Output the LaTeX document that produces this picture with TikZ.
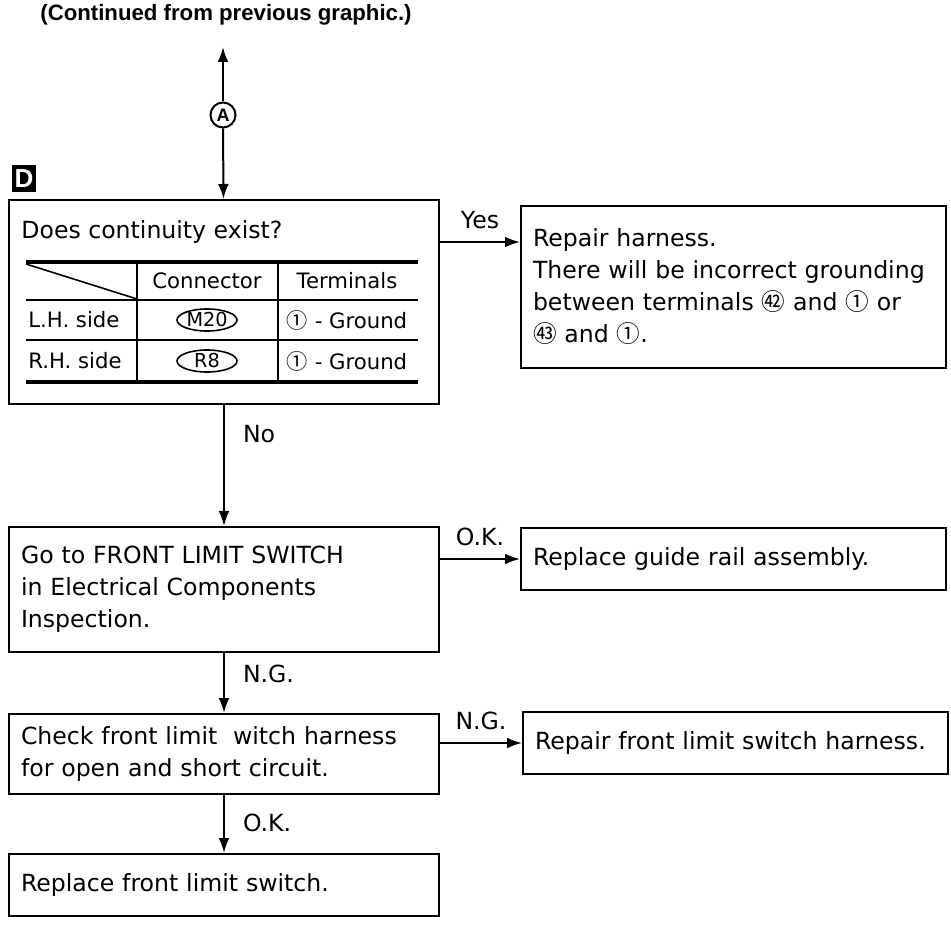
\documentclass[tikz,border=0pt]{standalone}
\usepackage{fontspec}
\setmainfont{DejaVu Sans}
\newfontfamily\headfont{Liberation Sans}
\newfontfamily\cjk{Noto Sans CJK SC}
\usetikzlibrary{arrows.meta,positioning,shapes.geometric}
\newcommand{\bodyfont}{\fontsize{11.8pt}{16pt}\selectfont}
\newcommand{\cellfont}{\fontsize{10.6pt}{12pt}\selectfont}
\newcommand{\cn}[1]{{\cjk #1}}
\tikzset{
  box/.style={draw, line width=1pt, anchor=north west, align=left,
    inner xsep=6pt, inner ysep=0pt, font=\bodyfont},
  flow/.style={-{Latex[length=7.5pt,width=5.4pt]}, line width=1pt},
  lbl/.style={font=\bodyfont, inner sep=0pt},
  cell/.style={font=\cellfont, inner sep=0pt},
  plug/.style={ellipse, draw, line width=0.8pt, inner sep=0pt,
    minimum width=30pt, minimum height=11pt, font=\fontsize{9.6pt}{9.6pt}\selectfont},
  rulethick/.style={line width=2pt},
  rulethin/.style={line width=0.8pt},
  joint/.style={circle, draw, line width=1pt, minimum size=12.5pt, inner sep=0pt,
    font=\headfont\bfseries\fontsize{9pt}{9pt}\selectfont},
  tag/.style={fill=black, text=white, minimum width=12pt, minimum height=13.5pt,
    inner sep=0pt, font=\headfont\bfseries\fontsize{13pt}{13pt}\selectfont},
}

\begin{document}
\begin{tikzpicture}[x=0.5pt, y=-0.5pt]
  \useasboundingbox (0,0) rectangle (951,925);
  \node[font=\headfont\bfseries\fontsize{11.1pt}{13pt}\selectfont] (title) at (226,15)
    {(Continued from previous graphic.)};
  \coordinate (prev) at (223,47);
  \node[joint] (markA) at (223,115) {A};
  \node[tag] (secD) at (24,179) {D};

  % continuity check with connector table
  \node[box, minimum width=215pt, minimum height=102pt] (cont) at (8,199) {};
  \node[lbl, anchor=west] (ask) at (21,232) {Does continuity exist?};
  \foreach \y/\w in {262/rulethick, 300/rulethin, 340/rulethin, 382/rulethick}
    \draw[\w] (26,\y) -- (418,\y);
  \foreach \x in {137, 278}
    \draw[rulethin] (\x,262) -- (\x,382);
  \draw[rulethin] (26,264) -- (137,299);
  \node[cell] (hcon) at (207,281) {Connector};
  \node[cell] (hterm) at (347,281) {Terminals};
  \foreach \y/\side/\pin in {320/L.H. side/M20, 361/R.H. side/R8} {
    \node[cell, anchor=west] (side-\y) at (28,\y) {\side};
    \node[plug] (pin-\y) at (207,\y) {\pin};
    \node[cell] (term-\y) at (347,\y) {\cn{①} - Ground};
  }

  \node[box, text width=200.5pt, minimum height=81pt] (fix) at (520,205)
    {Repair harness.\\There will be incorrect grounding\\between terminals
     \cn{㊷} and \cn{①} or\\\cn{㊸} and \cn{①}.};
  \node[box, text width=203pt, minimum height=62.5pt] (goto) at (8,526)
    {Go to FRONT LIMIT SWITCH\\in Electrical Components\\Inspection.};
  \node[box, text width=200.5pt, minimum height=31pt] (guide) at (520,527)
    {Replace guide rail assembly.};
  \node[box, text width=203pt, minimum height=40pt] (chk) at (8,713)
    {Check front limit~ witch harness\\for open and short circuit.};
  \node[box, text width=200.5pt, minimum height=31pt] (fixsw) at (522,711)
    {Repair front limit switch harness.};
  \node[box, text width=203pt, minimum height=31pt] (swap) at (8,853)
    {Replace front limit switch.};

  % connectors
  \draw[flow] (markA) -- (prev);
  \draw[flow] (markA) -- (cont);
  \coordinate (yesout) at ([yshift=-21.5pt]cont.north east);
  \draw[flow] (yesout) -- node[lbl, above=6pt] {Yes} (yesout -| fix.west);
  \draw[flow] (cont) -- node[lbl, anchor=west, xshift=9pt, pos=0.24] {No} (goto);
  \draw[flow] (guide.west -| goto.east) -- node[lbl, above=6pt] {O.K.} (guide.west);
  \draw[flow] (goto) -- node[lbl, anchor=west, xshift=9pt, pos=0.35] {N.G.} (chk);
  \draw[flow] (fixsw.west -| chk.east) -- node[lbl, above=6pt] {N.G.} (fixsw.west);
  \draw[flow] (chk) -- node[lbl, anchor=west, xshift=9pt, pos=0.48] {O.K.} (swap);
\end{tikzpicture}
\end{document}
